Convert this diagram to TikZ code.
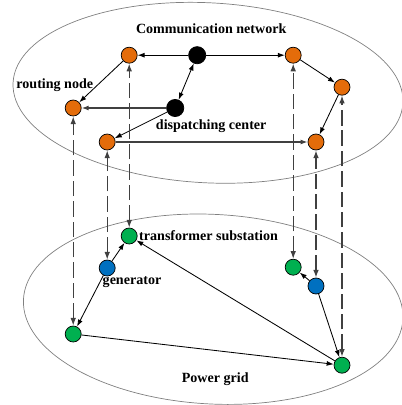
\documentclass[tikz,border=0pt]{standalone}
\usepackage{fontspec}
\setmainfont{Liberation Serif}
\usetikzlibrary{arrows.meta}
\definecolor{nodeorange}{HTML}{E46C0A}
\definecolor{nodegreen}{HTML}{00B050}
\definecolor{nodeblue}{HTML}{0070C0}
\definecolor{linkgray}{HTML}{404040}
\begin{document}
\begin{tikzpicture}[font=\fontsize{10}{12}\selectfont\bfseries,
  dot/.style={circle, draw=black, line width=0.5pt, minimum size=0.4cm, inner sep=0pt},
  router/.style={dot, fill=nodeorange},
  center/.style={dot, fill=black, minimum size=0.43cm},
  station/.style={dot, fill=nodegreen},
  gen/.style={dot, fill=nodeblue},
  link/.style={-{Latex[length=5pt,width=3.5pt]}, line width=0.6pt},
  glink/.style={link, draw=linkgray, line width=0.9pt},
  couple/.style={{Latex[length=5.5pt,width=4pt]}-{Latex[length=5.5pt,width=4pt]},
    draw=linkgray, line width=0.9pt, dash pattern=on 11pt off 3.5pt}]

  \useasboundingbox (0,0) rectangle (10.05,-10.125);

  % Layer outlines
  \draw[gray, line width=0.5pt, rotate around={-3:(5.20,-2.32)}]
    (5.20,-2.32) ellipse (4.88 and 2.25);
  \draw[gray, line width=0.5pt, rotate around={-3:(5.33,-7.73)}]
    (5.33,-7.73) ellipse (4.75 and 2.37);

  % Communication network
  \node[router] (r1) at (3.23,-1.38) {};
  \node[center] (c1) at (4.93,-1.38) {};
  \node[router] (r2) at (7.33,-1.38) {};
  \node[router] (r3) at (8.55,-2.18) {};
  \node[router] (r4) at (1.83,-2.70) {};
  \node[center] (c2) at (4.38,-2.70) {};
  \node[router] (r5) at (2.68,-3.55) {};
  \node[router] (r6) at (7.90,-3.55) {};

  % Power grid
  \node[station] (s1) at (3.23,-5.90) {};
  \node[gen]     (g1) at (2.68,-6.70) {};
  \node[station] (s2) at (1.83,-8.35) {};
  \node[station] (s3) at (7.33,-6.68) {};
  \node[gen]     (g2) at (7.90,-7.15) {};
  \node[station] (s4) at (8.55,-9.13) {};

  % Labels
  \node (commlabel)  at (5.28,-0.73) {Communication network};
  \node (routelabel) at (1.37,-2.13) {routing node};
  \node (displabel)  at (5.28,-3.15) {dispatching center};
  \node[anchor=west, inner sep=1pt] (sublabel) at (s1.east) {transformer substation};
  \node (genlabel)   at (3.30,-7.05) {generator};
  \node (gridlabel)  at (5.38,-9.48) {Power grid};

  % Communication links
  \draw[link] (c1) -- (r1);
  \draw[link] (c1) -- (r2);
  \draw[link, {Latex[length=5pt,width=3.5pt]}-{Latex[length=5pt,width=3.5pt]}] (c1) -- (c2);
  \draw[link] (r1) -- (r4);
  \draw[glink] (c2) -- (r4);
  \draw[link] (c2) -- (r5);
  \draw[glink] (r5) -- (r6);
  \draw[link] (r2) -- (r3);
  \draw[link] (r3) -- (r6);

  % Power links
  \draw[link] (g1) -- (s1);
  \draw[link] (g1) -- (s2);
  \draw[link] (s2) -- (s4);
  \draw[link] (s4) -- (s1);
  \draw[link] (g2) -- (s3);
  \draw[link] (g2) -- (s4);

  % Coupling between layers
  \draw[couple] (s2) -- (r4);
  \draw[couple] (g1) -- (r5);
  \draw[couple] (s1) -- (r1);
  \draw[couple] (s3) -- (r2);
  \draw[couple] (g2) -- (r6);
  \draw[couple] (s4) -- (r3);

\end{tikzpicture}
\end{document}
